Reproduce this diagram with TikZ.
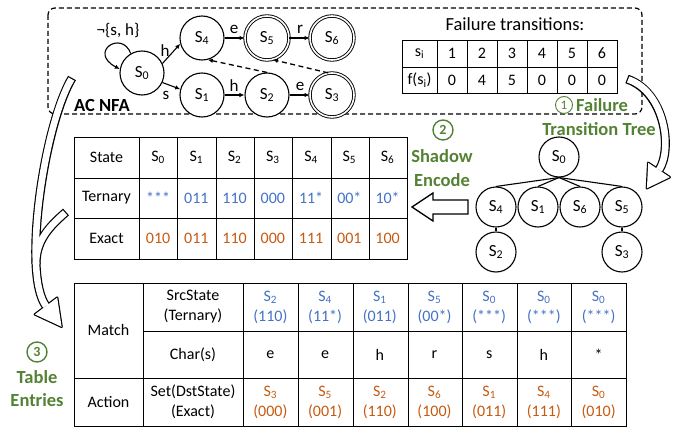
\documentclass[tikz,border=0pt]{standalone}
\usepackage{fontspec}
\setmainfont{Carlito}
\usetikzlibrary{arrows.meta}
\definecolor{gr}{HTML}{548235}
\definecolor{bl}{HTML}{4472C4}
\definecolor{orn}{HTML}{C55A11}
\begin{document}
\begin{tikzpicture}[x=1pt,y=-1pt,
  every node/.style={font=\fontsize{16}{20}\selectfont},
  st/.style={circle,draw,line width=1.1pt,minimum size=44pt,inner sep=0pt,fill=white,font=\fontsize{17}{17}\selectfont},
  acc/.style={st,double,double distance=1.6pt,line width=0.9pt},
  tn/.style={circle,draw,line width=1.1pt,minimum size=40pt,inner sep=0pt,fill=white,font=\fontsize{17}{17}\selectfont},
  arr/.style={-{Latex[length=5pt,width=4.5pt]},line width=1.1pt},
  farr/.style={-{Latex[length=5pt,width=4.5pt]},line width=1.3pt,dash pattern=on 5pt off 3.5pt},
  lab/.style={font=\fontsize{17}{17}\selectfont,inner sep=1pt},
  grn/.style={text=gr,font=\bfseries\fontsize{18.5}{22}\selectfont,inner sep=1pt},
  cnum/.style={circle,draw=gr,text=gr,font=\bfseries\fontsize{14}{14}\selectfont,inner sep=0pt,minimum size=20pt,line width=1.4pt},
  tbl/.style={line width=0.9pt},
  hout/.style={line width=9pt,black},
  hin/.style={line width=6.6pt,white},
]
\useasboundingbox (0,0) rectangle (680,428);

% dashed frame
\draw[line width=1.2pt,rounded corners=7pt,dash pattern=on 5pt off 3pt] (48,8) rectangle (642,114);

% ---------- NFA ----------
\node[st] (n0) at (142,73) {S\textsubscript{0}};
\node[st] (n4) at (202,38) {S\textsubscript{4}};
\node[acc] (n5) at (267,38) {S\textsubscript{5}};
\node[acc] (n6) at (332,38) {S\textsubscript{6}};
\node[st] (n1) at (202,95) {S\textsubscript{1}};
\node[st] (n2) at (267,95) {S\textsubscript{2}};
\node[acc] (n3) at (332,95) {S\textsubscript{3}};

\draw[arr] (n0.120) .. controls +(-9,-24) and +(-32,-17) .. (n0.170);
\node[lab] (lloop) at (118,31) {¬\{s, h\}};
\draw[arr] (n0.25) -- (n4.195);
\node[lab] (lh1) at (165,51) {h};
\draw[arr] (n0.-25) -- (n1.165);
\node[lab] (ls1) at (166,95) {s};
\draw[arr] (n4) -- (n5);
\node[lab] (le1) at (234,29) {e};
\draw[arr] (n5) -- (n6);
\node[lab] (lr1) at (300,29) {r};
\draw[arr] (n1) -- (n2);
\node[lab] (lh2) at (234,86) {h};
\draw[arr] (n2) -- (n3);
\node[lab] (le2) at (300,86) {e};
\draw[farr] (n2.north) -- (n4.-75);
\draw[farr] (n3.100) -- (n5.-75);
\node[font=\bfseries\fontsize{18.5}{20}\selectfont] (acnfa) at (102,105) {AC NFA};

% ---------- failure transitions ----------
\node[font=\fontsize{18.5}{20}\selectfont] (ftitle) at (515,24) {Failure transitions:};
\draw[tbl] (402,40) rectangle (617,93);
\draw[tbl] (402,67) -- (617,67);
\foreach \x in {437,467,497,527,557,587} \draw[tbl] (\x,40) -- (\x,93);
\node (fsi) at (419.5,53.5) {s\textsubscript{i}};
\node (ffs) at (419.5,80) {f(s\textsubscript{i})};
\foreach \i/\f in {1/0,2/4,3/5,4/0,5/0,6/0}{
  \node (fa\i) at ({422+30*\i},53.5) {\i};
  \node (fb\i) at ({422+30*\i},80) {\f};
}

% ---------- failure tree ----------
\node[tn] (t0) at (559,157) {S\textsubscript{0}};
\node[tn] (t4) at (496,207) {S\textsubscript{4}};
\node[tn] (t1) at (538,207) {S\textsubscript{1}};
\node[tn] (t6) at (580,207) {S\textsubscript{6}};
\node[tn] (t5) at (622,207) {S\textsubscript{5}};
\node[tn] (t2) at (496,252) {S\textsubscript{2}};
\node[tn] (t3) at (622,252) {S\textsubscript{3}};
\foreach \c in {t4,t1,t6,t5} \draw[line width=1.1pt] (t0.south) -- (\c.north);
\draw[line width=1.1pt] (t4.south) -- (t2.north);
\draw[line width=1.1pt] (t5.south) -- (t3.north);

% ---------- state table ----------
\draw[tbl] (74,137) rectangle (407,259);
\foreach \y in {178,218} \draw[tbl] (74,\y) -- (407,\y);
\foreach \x in {139,177,216,254,292,331,369} \draw[tbl] (\x,137) -- (\x,259);
\node (sth) at (106.5,157.5) {State};
\node (stt) at (106.5,198) {Ternary};
\node (ste) at (106.5,238.5) {Exact};
\foreach \i/\t/\e in {0/***/010,1/011/011,2/110/110,3/000/000,4/11*/111,5/00*/001,6/10*/100}{
  \node (sh\i) at ({158.1+38.25*\i},157.5) {S\textsubscript{\i}};
  \node[text=bl] (tr\i) at ({158.1+38.25*\i},198) {\t};
  \node[text=orn] (ex\i) at ({158.1+38.25*\i},238.5) {\e};
}

% ---------- match-action table ----------
\draw[tbl] (74,283) rectangle (626,426);
\draw[tbl] (143,331) -- (626,331);
\draw[tbl] (74,378) -- (626,378);
\foreach \x in {143,243,298,353,408,462,517,571} \draw[tbl] (\x,283) -- (\x,426);
\node (mm) at (108.5,330.5) {Match};
\node (ma) at (108.5,402) {Action};
\node[align=center] (msrc) at (193,307) {SrcState\\(Ternary)};
\node (mch) at (193,354.5) {Char(s)};
\node[align=center] (mdst) at (193,402) {Set(DstState)\\(Exact)};
\foreach \i/\s/\t/\c/\d/\u in {0/2/110/e/3/000,1/4/11*/e/5/001,2/1/011/h/2/110,3/5/00*/r/6/100,4/0/***/s/1/011,5/0/***/h/4/111,6/0/***/*/0/010}{
  \node[text=bl,align=center] (src\i) at ({270.4+54.7*\i},307) {S\textsubscript{\s}\\(\t)};
  \node (chr\i) at ({270.4+54.7*\i},354.5) {\c};
  \node[text=orn,align=center] (dst\i) at ({270.4+54.7*\i},402) {S\textsubscript{\d}\\(\u)};
}

% ---------- shadow encode arrow ----------
\draw[line width=1.3pt,fill=white,line join=miter] (412,207) -- (433,193) -- (433,200) -- (468,200) -- (468,214) -- (433,214) -- (433,221) -- cycle;

% ---------- green labels ----------
\node[cnum,minimum size=17pt,line width=0.9pt,font=\fontsize{13}{13}\selectfont] (c1) at (564,105) {1};
\node[grn,anchor=west] (l1) at (575,105) {Failure};
\node[grn] (l1b) at (599,129) {Transition Tree};
\node[cnum] (c2) at (443,130) {2};
\node[grn] (l2a) at (442,156) {Shadow};
\node[grn] (l2b) at (442,180) {Encode};
\node[cnum] (c3) at (37,352) {3};
\node[grn] (l3a) at (37,377) {Table};
\node[grn] (l3b) at (37,400) {Entries};

% ---------- big hollow curved arrows ----------
% right
\draw[hout] (627,79) .. controls (665,92) and (672.8,149.1) .. (659,170);
\filldraw[line width=2.4pt,line join=round] (646.9,188.3) -- (669.8,177.2) -- (648.2,162.8) -- cycle;
\draw[hin,shorten <=1.2pt] (627,79) .. controls (665,92) and (672.8,149.1) .. (659,170);
\fill[white] (646.9,188.3) -- (669.8,177.2) -- (648.2,162.8) -- cycle;
% left (with branch)
\draw[hout] (72,78) .. controls (44,125) and (22,274) .. (46,306);
\draw[hout] (66,212) .. controls (50,226) and (36,240) .. (36,264);
\filldraw[line width=2.4pt,line join=round] (61.6,326.8) -- (57.2,297.6) -- (34.8,314.4) -- cycle;
\draw[hin,shorten <=1.2pt] (72,78) .. controls (44,125) and (22,274) .. (46,306);
\draw[hin,shorten <=1.2pt] (66,212) .. controls (50,226) and (36,240) .. (36,264);
\fill[white] (61.6,326.8) -- (57.2,297.6) -- (34.8,314.4) -- cycle;
\end{tikzpicture}
\end{document}
